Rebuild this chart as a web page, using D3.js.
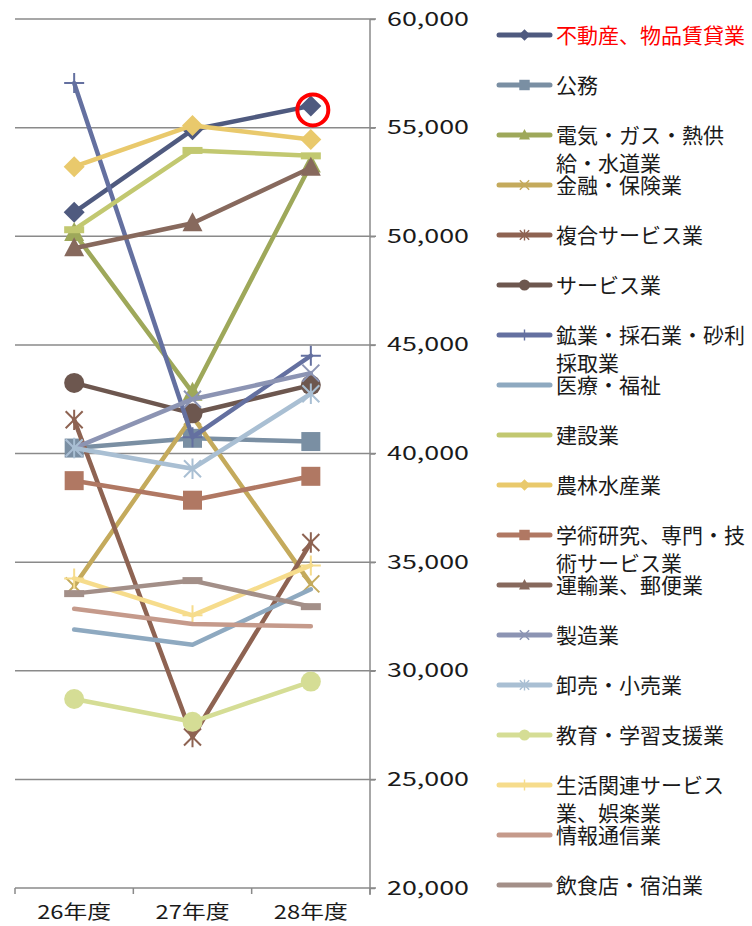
<!DOCTYPE html>
<html><head><meta charset="utf-8">
<script src="https://cdn.jsdelivr.net/npm/d3@7"></script>
<style>
html,body{margin:0;padding:0;background:#fff;}
svg{display:block;}
text{font-family:"Noto Sans CJK JP","Noto Sans",sans-serif;}
</style></head>
<body>
<svg id="chart" width="752" height="926"></svg>
<script>
const categories = ["26年度", "27年度", "28年度"];
const seriesNames = [
  "不動産、物品賃貸業", "公務", "電気・ガス・熱供\n給・水道業", "金融・保険業", "複合サービス業",
  "サービス業", "鉱業・採石業・砂利\n採取業", "医療・福祉", "建設業", "農林水産業",
  "学術研究、専門・技\n術サービス業", "運輸業、郵便業", "製造業", "卸売・小売業", "教育・学習支援業",
  "生活関連サービス\n業、娯楽業", "情報通信業", "飲食店・宿泊業"
];
const valsRealEstate   = [51100, 54900, 56000];
const valsPublic       = [40250, 40700, 40550];
const valsUtilities    = [50150, 42800, 53300];
const valsFinance      = [33900, 41700, 34000];
const valsCompound     = [41550, 26950, 35900];
const valsServices     = [43250, 41850, 43150];
const valsMining       = [57050, 40750, 44500];
const valsMedical      = [31900, 31200, 33750];
const valsConstruction = [50300, 53950, 53700];
const valsAgriculture  = [53200, 55100, 54450];
const valsResearch     = [38750, 37850, 38950];
const valsTransport    = [49450, 50600, 53150];
const valsManufacture  = [40250, 42500, 43700];
const valsWholesale    = [40250, 39300, 42750];
const valsEducation    = [28700, 27650, 29500];
const valsLiving       = [34250, 32550, 34850];
const valsInfo         = [32850, 32150, 32050];
const valsFood         = [33550, 34150, 32950];
const yTicks = [20000, 25000, 30000, 35000, 40000, 45000, 50000, 55000, 60000];
const highlightSeries = 0;   // circled series
const highlightIndex = 2;    // circled category

const seriesValues = [valsRealEstate, valsPublic, valsUtilities, valsFinance, valsCompound,
  valsServices, valsMining, valsMedical, valsConstruction, valsAgriculture, valsResearch,
  valsTransport, valsManufacture, valsWholesale, valsEducation, valsLiving, valsInfo, valsFood];
const colors = ["#4f5a7f", "#7a8fa3", "#9ea85a", "#c4aa5c", "#8e6352", "#6d574f", "#6470a0",
  "#8ea9c0", "#c2c870", "#e9c96c", "#b07863", "#87695d", "#8c94b3", "#a9bfd3", "#d5dd95",
  "#f6dc8c", "#c59a8b", "#a38f88"];
const markers = ["diamond", "square", "triangle", "x", "asterisk", "circle", "plus", "none",
  "dash", "diamond", "square", "triangle", "x", "asterisk", "circle", "plus", "none", "dash"];

const svg = d3.select("#chart");
const x = d3.scaleBand().domain(categories).range([15, 370]).padding(0);
const y = d3.scaleLinear().domain([20000, 60000]).range([888, 19]);
const cx = c => x(c) + x.bandwidth() / 2;
const gridColor = "#8a8a8a";

// gridlines
svg.append("g").selectAll("line").data(yTicks.slice(1)).join("line")
  .attr("x1", 15).attr("x2", 376)
  .attr("y1", d => y(d)).attr("y2", d => y(d))
  .attr("stroke", gridColor).attr("stroke-width", 1.5);

// right value axis
const yAxis = svg.append("g").attr("transform", "translate(370,0)")
  .call(d3.axisRight(y).tickValues(yTicks).tickSize(5).tickPadding(12).tickFormat(d3.format(",")));
yAxis.select(".domain").attr("stroke", gridColor).attr("stroke-width", 1.5)
  .attr("d", `M0,${y(60000)}V${y(20000) + 7}`);
yAxis.selectAll(".tick line").attr("stroke", gridColor).attr("stroke-width", 1.5);
yAxis.selectAll(".tick text").attr("fill", "#1a1a1a").style("font-size", "19px")
  .attr("textLength", 82).attr("lengthAdjust", "spacingAndGlyphs");

// bottom category axis
const xAxis = svg.append("g").attr("transform", `translate(0,${y(20000)})`)
  .call(d3.axisBottom(x).tickSize(0).tickPadding(18));
xAxis.select(".domain").attr("stroke", gridColor).attr("stroke-width", 1.5)
  .attr("d", `M15,0H376`);
xAxis.selectAll(".tick text").attr("fill", "#1a1a1a").style("font-size", "19px")
  .attr("textLength", 74).attr("lengthAdjust", "spacingAndGlyphs");
const bounds = categories.map(c => x(c)).concat([x.range()[1]]);
xAxis.append("g").selectAll("line").data(bounds).join("line")
  .attr("x1", d => d).attr("x2", d => d).attr("y1", 0).attr("y2", 6)
  .attr("stroke", gridColor).attr("stroke-width", 1.5);

function drawMarker(g, type, px, py, color, s) {
  // s = scale factor (1 for plot, ~0.55 for legend)
  if (type === "diamond") {
    const r = 10.5 * s;
    g.append("path").attr("d", `M${px},${py - r}L${px + r},${py}L${px},${py + r}L${px - r},${py}Z`).attr("fill", color);
  } else if (type === "square") {
    const h = 9.5 * s;
    g.append("rect").attr("x", px - h).attr("y", py - h).attr("width", 2 * h).attr("height", 2 * h).attr("fill", color);
  } else if (type === "triangle") {
    const w = 10 * s, t = 11 * s, b = 8 * s;
    g.append("path").attr("d", `M${px},${py - t}L${px + w},${py + b}L${px - w},${py + b}Z`).attr("fill", color);
  } else if (type === "circle") {
    g.append("circle").attr("cx", px).attr("cy", py).attr("r", 10 * s).attr("fill", color);
  } else if (type === "x" || type === "asterisk" || type === "plus") {
    const r = 8.5 * s, sw = 2 * Math.max(s, 0.7);
    let d = "";
    if (type !== "plus") d += `M${px - r},${py - r}L${px + r},${py + r}M${px - r},${py + r}L${px + r},${py - r}`;
    if (type === "asterisk") d += `M${px},${py - r * 1.2}L${px},${py + r * 1.2}`;
    if (type === "plus") { const q = 10 * s; d += `M${px - q},${py}L${px + q},${py}M${px},${py - q}L${px},${py + q}`; }
    g.append("path").attr("d", d).attr("stroke", color).attr("stroke-width", sw).attr("fill", "none");
  } else if (type === "dash") {
    g.append("rect").attr("x", px - 10 * s).attr("y", py - 3.5 * s).attr("width", 20 * s).attr("height", 7 * s).attr("fill", color);
  }
}

// series
const line = d3.line().x((d, i) => cx(categories[i])).y(d => y(d));
const plot = svg.append("g");
seriesValues.forEach((vals, si) => {
  const g = plot.append("g");
  g.append("path").datum(vals).attr("d", line).attr("fill", "none")
    .attr("stroke", colors[si]).attr("stroke-width", 4.5)
    .attr("stroke-linejoin", "round").attr("stroke-linecap", "round");
  vals.forEach((v, i) => drawMarker(g, markers[si], cx(categories[i]), y(v), colors[si], 1));
});

// highlight ring
svg.append("circle")
  .attr("cx", cx(categories[highlightIndex]) + 2)
  .attr("cy", y(seriesValues[highlightSeries][highlightIndex]) + 4)
  .attr("r", 15.5).attr("fill", "none").attr("stroke", "#ff0000").attr("stroke-width", 4);

// legend
const legend = svg.append("g");
seriesNames.forEach((name, si) => {
  const ly = 35 + si * 50;
  const g = legend.append("g");
  g.append("line").attr("x1", 499).attr("x2", 550).attr("y1", ly).attr("y2", ly)
    .attr("stroke", colors[si]).attr("stroke-width", 5).attr("stroke-linecap", "round");
  if (markers[si] !== "dash" && markers[si] !== "none")
    drawMarker(g, markers[si], 524.5, ly, colors[si], 0.55);
  const lines = name.split("\n");
  const t = g.append("text").attr("x", 556).attr("y", ly)
    .attr("fill", si === highlightSeries ? "#ff0000" : "#1a1a1a")
    .style("font-size", "21px");
  lines.forEach((ln, li) => {
    t.append("tspan").attr("x", 556).attr("y", ly + li * 28).attr("dy", "0.36em").text(ln);
  });
});
</script>
</body></html>
